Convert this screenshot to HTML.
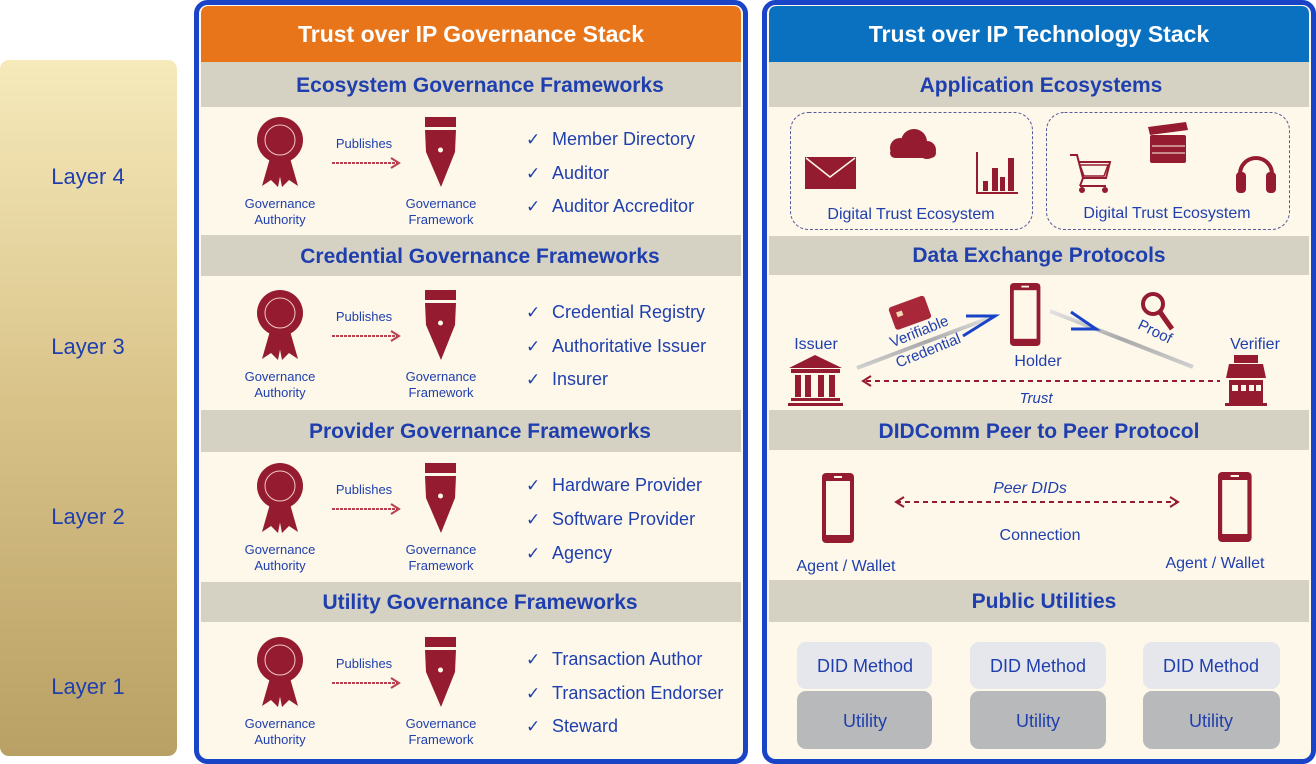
<!DOCTYPE html>
<html><head><meta charset="utf-8"><style>
html,body{margin:0;padding:0;background:#fff;width:1316px;height:764px;overflow:hidden}
svg{display:block;font-family:"Liberation Sans",sans-serif}
</style></head><body>
<svg width="1316" height="764" viewBox="0 0 1316 764" xmlns="http://www.w3.org/2000/svg">
<defs>
<linearGradient id="lg" x1="0" y1="0" x2="0" y2="1">
<stop offset="0" stop-color="#f6eabb"/><stop offset="0.5" stop-color="#d8c288"/><stop offset="1" stop-color="#b9a064"/>
</linearGradient>
<linearGradient id="bar" x1="0" y1="0" x2="0" y2="1">
<stop offset="0" stop-color="#e4e4e4"/><stop offset="0.5" stop-color="#a9a9a9"/><stop offset="1" stop-color="#d0d0d0"/>
</linearGradient>
<g id="gov">
<circle cx="280" cy="140" r="23" fill="#951c30"/>
<circle cx="280" cy="140" r="15" fill="none" stroke="#f3c9c9" stroke-width="1"/>
<polygon points="270,158 262,186 271,180 278,187 283,161" fill="#951c30"/>
<polygon points="290,158 298,186 289,180 282,187 277,161" fill="#951c30"/>
<text x="280" y="208" font-size="13" fill="#1f3fae" text-anchor="middle">Governance</text>
<text x="280" y="224" font-size="13" fill="#1f3fae" text-anchor="middle">Authority</text>
<text x="364" y="148" font-size="13" fill="#1f3fae" text-anchor="middle">Publishes</text>
<line x1="332" y1="163" x2="398" y2="163" stroke="#b8404f" stroke-width="2" stroke-dasharray="3 1"/>
<polyline points="391,158 399,163 391,168" fill="none" stroke="#b8404f" stroke-width="2"/>
<rect x="425" y="117" width="31" height="10" fill="#951c30"/>
<path d="M425,130 H456 L455,152 L441,187 L426,152 Z" fill="#951c30"/>
<circle cx="440.5" cy="150" r="2.5" fill="#fdf8ea"/>
<text x="441" y="208" font-size="13" fill="#1f3fae" text-anchor="middle">Governance</text>
<text x="441" y="224" font-size="13" fill="#1f3fae" text-anchor="middle">Framework</text>
</g>
<g id="phone"><rect x="0" y="0" width="32" height="70" rx="4" fill="#951c30"/><rect x="4" y="8" width="24" height="54" fill="#fdf8ea"/><rect x="12" y="3" width="8" height="2" fill="#fdf8ea"/></g>
</defs>

<!-- Layer bar -->
<rect x="0" y="60" width="177" height="696" rx="9" fill="url(#lg)"/>
<g font-size="22" fill="#1f3fae" text-anchor="middle">
<text x="88" y="184">Layer 4</text><text x="88" y="354">Layer 3</text>
<text x="88" y="524">Layer 2</text><text x="88" y="694">Layer 1</text>
</g>

<!-- Left panel -->
<rect x="196.5" y="2.5" width="549" height="759" rx="11" fill="#fdf8ea" stroke="#1a44c8" stroke-width="5"/>
<path d="M201,14 Q201,6 209,6 H733 Q741,6 741,14 V62 H201 Z" fill="#e8751a"/>
<text x="471" y="42" font-size="23" font-weight="bold" fill="#fff" text-anchor="middle">Trust over IP Governance Stack</text>
<g fill="#d6d2c3">
<rect x="201" y="62" width="540" height="45"/><rect x="201" y="235" width="540" height="41"/>
<rect x="201" y="410" width="540" height="42"/><rect x="201" y="582" width="540" height="40"/>
</g>
<g font-size="21" font-weight="bold" fill="#1f3fae" text-anchor="middle">
<text x="480" y="92">Ecosystem Governance Frameworks</text>
<text x="480" y="263">Credential Governance Frameworks</text>
<text x="480" y="438">Provider Governance Frameworks</text>
<text x="480" y="609">Utility Governance Frameworks</text>
</g>
<use href="#gov"/>
<use href="#gov" transform="translate(0,173)"/>
<use href="#gov" transform="translate(0,346)"/>
<use href="#gov" transform="translate(0,520)"/>
<g font-size="17" fill="#1f3fae" font-family="DejaVu Sans, sans-serif">
<g font-weight="bold"><text x="526" y="145">✓</text><text x="526" y="179">✓</text><text x="526" y="212">✓</text>
<text x="526" y="318">✓</text><text x="526" y="352">✓</text><text x="526" y="385">✓</text>
<text x="526" y="491">✓</text><text x="526" y="525">✓</text><text x="526" y="559">✓</text>
<text x="526" y="665">✓</text><text x="526" y="699">✓</text><text x="526" y="732">✓</text></g>
<g font-family="Liberation Sans, sans-serif" font-size="18">
<text x="552" y="145">Member Directory</text><text x="552" y="179">Auditor</text><text x="552" y="212">Auditor Accreditor</text>
<text x="552" y="318">Credential Registry</text><text x="552" y="352">Authoritative Issuer</text><text x="552" y="385">Insurer</text>
<text x="552" y="491">Hardware Provider</text><text x="552" y="525">Software Provider</text><text x="552" y="559">Agency</text>
<text x="552" y="665">Transaction Author</text><text x="552" y="699">Transaction Endorser</text><text x="552" y="732">Steward</text>
</g></g>

<!-- Right panel -->
<rect x="764.5" y="2.5" width="549" height="759" rx="11" fill="#fdf8ea" stroke="#1a44c8" stroke-width="5"/>
<path d="M769,14 Q769,6 777,6 H1301 Q1309,6 1309,14 V62 H769 Z" fill="#0a70c0"/>
<text x="1039" y="42" font-size="23" font-weight="bold" fill="#fff" text-anchor="middle">Trust over IP Technology Stack</text>
<g fill="#d6d2c3">
<rect x="769" y="62" width="540" height="45"/><rect x="769" y="236" width="540" height="39"/>
<rect x="769" y="410" width="540" height="40"/><rect x="769" y="580" width="540" height="42"/>
</g>
<g font-size="21" font-weight="bold" fill="#1f3fae" text-anchor="middle">
<text x="1041" y="92">Application Ecosystems</text>
<text x="1039" y="262">Data Exchange Protocols</text>
<text x="1039" y="438">DIDComm Peer to Peer Protocol</text>
<text x="1044" y="608">Public Utilities</text>
</g>

<!-- App ecosystems -->
<rect x="790.5" y="112.5" width="242" height="117" rx="18" fill="none" stroke="#5a5a9a" stroke-dasharray="3 2"/>
<rect x="1046.5" y="112.5" width="243" height="117" rx="18" fill="none" stroke="#5a5a9a" stroke-dasharray="3 2"/>
<g fill="#951c30">
<rect x="805" y="157" width="51" height="32"/>
<polyline points="806,158 830,177 855,158" fill="none" stroke="#fdf8ea" stroke-width="1.5"/>
<circle cx="900" cy="148" r="10"/><circle cx="914" cy="142" r="13"/><circle cx="927" cy="150" r="9"/><rect x="890" y="148" width="46" height="10" rx="5"/>
<rect x="976" y="152" width="2" height="42"/><rect x="976" y="192" width="42" height="2"/>
<rect x="983" y="181" width="5" height="10"/><rect x="992" y="168" width="6" height="23"/><rect x="1000" y="177" width="5" height="14"/><rect x="1008" y="158" width="6" height="33"/>
<rect x="1127" y="162" width="28" height="3" fill="none"/>
<path d="M1070,155 H1077 L1083,178 H1106 L1110,162 H1078" fill="none" stroke="#951c30" stroke-width="2"/>
<path d="M1080,165 H1108 L1104,176 H1084 Z" fill="none" stroke="#951c30" stroke-width="1.5"/>
<line x1="1083" y1="178" x2="1080" y2="186" stroke="#951c30" stroke-width="2"/><line x1="1080" y1="186" x2="1106" y2="186" stroke="#951c30" stroke-width="2"/>
<circle cx="1082" cy="190" r="3"/><circle cx="1105" cy="190" r="3"/>
<rect x="1150" y="135" width="36" height="28" rx="2"/>
<polygon points="1148,127 1186,122 1188,130 1150,135"/>
<line x1="1152" y1="146" x2="1185" y2="146" stroke="#fdf8ea"/><line x1="1152" y1="153" x2="1185" y2="153" stroke="#fdf8ea"/>
<path d="M1240,182 V174 A16,16 0 0 1 1272,174 V182" fill="none" stroke="#951c30" stroke-width="4"/>
<rect x="1236" y="172" width="10" height="21" rx="4"/><rect x="1266" y="172" width="10" height="21" rx="4"/>
</g>
<g font-size="16" fill="#1f3fae" text-anchor="middle">
<text x="911" y="219">Digital Trust Ecosystem</text>
<text x="1167" y="218">Digital Trust Ecosystem</text>
</g>

<!-- Data exchange -->
<g font-size="16" fill="#1f3fae" text-anchor="middle">
<text x="816" y="349">Issuer</text><text x="1038" y="366">Holder</text><text x="1255" y="349">Verifier</text>
<text x="1036" y="403" font-style="italic" font-size="15">Trust</text>
</g>
<g fill="#951c30">
<polygon points="815,355 842,368 789,368"/>
<rect x="791" y="369" width="49" height="4"/>
<rect x="795" y="375" width="6" height="22"/><rect x="805" y="375" width="6" height="22"/><rect x="818" y="375" width="6" height="22"/><rect x="829" y="375" width="6" height="22"/>
<rect x="791" y="398" width="49" height="3"/><rect x="788" y="403" width="55" height="3"/>
<rect x="1234" y="355" width="24" height="8"/><path d="M1229,364 H1263 L1266,378 H1226 Z"/>
<rect x="1229" y="380" width="34" height="26"/>
<g fill="#fdf8ea"><rect x="1232" y="385" width="6" height="6"/><rect x="1241" y="385" width="5" height="6"/><rect x="1249" y="385" width="5" height="6"/><rect x="1256" y="385" width="5" height="6"/></g>
<rect x="1225" y="403" width="42" height="3"/>
</g>
<line x1="857" y1="368" x2="997" y2="315" stroke="url(#bar)" stroke-width="4"/>
<line x1="1050" y1="311" x2="1193" y2="367" stroke="url(#bar)" stroke-width="4"/>
<polyline points="966,316 995,316 963,336" fill="none" stroke="#1a44c8" stroke-width="3"/>
<polyline points="1071,312 1096,329 1071,329" fill="none" stroke="#1a44c8" stroke-width="3"/>
<g transform="translate(888,308) rotate(-20)"><rect x="0" y="0" width="38" height="24" rx="3" fill="#a8283a"/><rect x="6" y="7" width="6" height="5" fill="#f3d9b0"/></g>
<g font-size="15" fill="#1f3fae" text-anchor="middle">
<text x="921" y="336" transform="rotate(-22 921 336)">Verifiable</text>
<text x="930" y="355" transform="rotate(-22 930 355)">Credential</text>
<text x="1153" y="336" transform="rotate(26 1153 336)">Proof</text>
</g>
<circle cx="1153" cy="304" r="10" fill="none" stroke="#951c30" stroke-width="4"/>
<line x1="1160" y1="312" x2="1172" y2="329" stroke="#951c30" stroke-width="5"/>
<use href="#phone" transform="translate(1010,283) scale(0.95,0.9)"/>
<line x1="866" y1="381" x2="1220" y2="381" stroke="#951c30" stroke-width="2" stroke-dasharray="5 4"/>
<polyline points="871,376 863,381 871,386" fill="none" stroke="#951c30" stroke-width="2"/>

<!-- DIDComm -->
<use href="#phone" transform="translate(822,473)"/>
<use href="#phone" transform="translate(1218,472) scale(1.05,1)"/>
<line x1="896" y1="502" x2="1178" y2="502" stroke="#951c30" stroke-width="2" stroke-dasharray="5 4"/>
<polyline points="904,497 896,502 904,507" fill="none" stroke="#951c30" stroke-width="2"/>
<polyline points="1170,497 1178,502 1170,507" fill="none" stroke="#951c30" stroke-width="2"/>
<line x1="870" y1="517" x2="1202" y2="517" stroke="url(#bar)" stroke-width="5"/>
<g font-size="16" fill="#1f3fae" text-anchor="middle">
<text x="1030" y="493" font-style="italic">Peer DIDs</text>
<text x="1040" y="540">Connection</text>
<text x="846" y="571">Agent / Wallet</text>
<text x="1215" y="568">Agent / Wallet</text>
</g>

<!-- Public utilities -->
<g>
<rect x="797" y="642" width="135" height="47" rx="9" fill="#e6e7ec"/><rect x="797" y="691" width="135" height="58" rx="9" fill="#b8b9bb"/>
<rect x="970" y="642" width="136" height="47" rx="9" fill="#e6e7ec"/><rect x="970" y="691" width="136" height="58" rx="9" fill="#b8b9bb"/>
<rect x="1143" y="642" width="137" height="47" rx="9" fill="#e6e7ec"/><rect x="1143" y="691" width="137" height="58" rx="9" fill="#b8b9bb"/>
</g>
<g font-size="18" fill="#1f3fae" text-anchor="middle">
<text x="865" y="672">DID Method</text><text x="1038" y="672">DID Method</text><text x="1211" y="672">DID Method</text>
<text x="865" y="727">Utility</text><text x="1038" y="727">Utility</text><text x="1211" y="727">Utility</text>
</g>
</svg>
</body></html>
